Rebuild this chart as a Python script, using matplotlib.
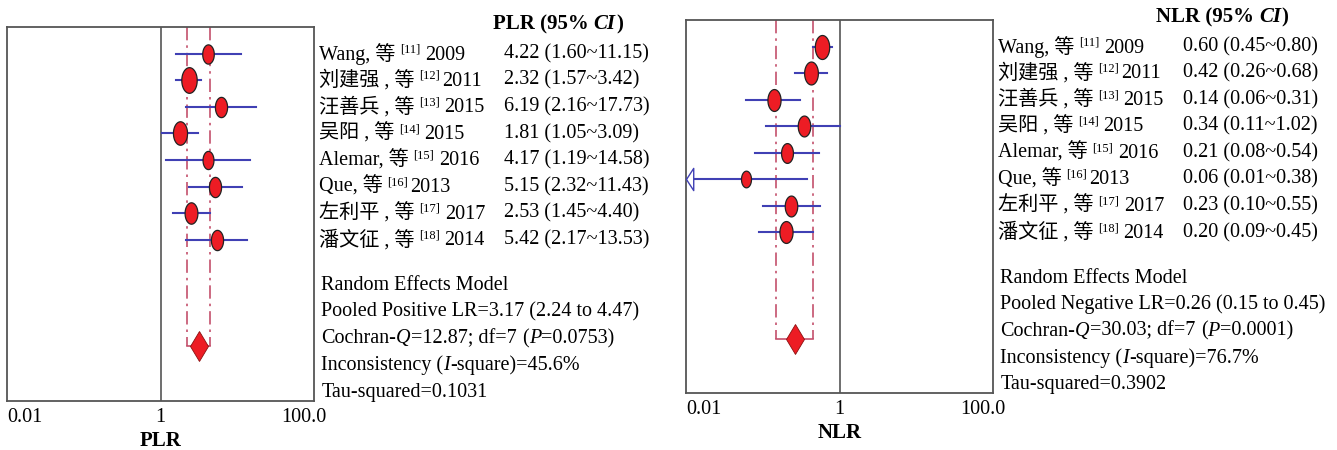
import matplotlib
matplotlib.use("Agg")
import matplotlib.pyplot as plt
import matplotlib.transforms as mtransforms
from matplotlib.path import Path
import numpy as np

plt.rcParams['font.family'] = ['Liberation Serif', 'Noto Sans CJK SC', 'DejaVu Sans']

# study labels
studies = ["Wang, 等", "刘建强 , 等", "汪善兵 , 等", "吴阳 , 等",
           "Alemar, 等", "Que, 等", "左利平 , 等", "潘文征 , 等"]
refs = ["[11]", "[12]", "[13]", "[14]", "[15]", "[16]", "[17]", "[18]"]
years = ["2009", "2011", "2015", "2015", "2016", "2013", "2017", "2014"]

# positive likelihood ratio
plr = [4.22, 2.32, 6.19, 1.81, 4.17, 5.15, 2.53, 5.42]
plr_lo = [1.60, 1.57, 2.16, 1.05, 1.19, 2.32, 1.45, 2.17]
plr_hi = [11.15, 3.42, 17.73, 3.09, 14.58, 11.43, 4.40, 13.53]
plr_weight = [10.3, 18.3, 11.4, 15.3, 9.2, 11.4, 12.7, 11.4]
plr_pooled = (3.17, 2.24, 4.47)
plr_stats = ("12.87", "7", "0.0753", "45.6%", "0.1031")

# negative likelihood ratio
nlr = [0.60, 0.42, 0.14, 0.34, 0.21, 0.06, 0.23, 0.20]
nlr_lo = [0.45, 0.26, 0.06, 0.11, 0.08, 0.01, 0.10, 0.09]
nlr_hi = [0.80, 0.68, 0.31, 1.02, 0.54, 0.38, 0.55, 0.45]
nlr_weight = [16.0, 14.6, 13.3, 12.1, 10.9, 7.7, 12.1, 13.3]
nlr_pooled = (0.26, 0.15, 0.45)
nlr_stats = ("30.03", "7", "0.0001", "76.7%", "0.3902")

xticks = [0.01, 1, 100]
xtick_labels = ["0.01", "1", "100.0"]

RED = '#ed1c24'
BLUE = '#4040b4'
PINK = '#c4506c'
GREY = '#555555'
FS = 14.5

t = np.linspace(0, 2 * np.pi, 60)
ellipse = Path(np.column_stack([0.6 * np.cos(t), np.sin(t)]))
arrow_head = Path([(0, 0), (0.65, 1), (0.65, -1), (0, 0)],
                  [Path.MOVETO, Path.LINETO, Path.LINETO, Path.CLOSEPOLY])


def chain(ax, x, y, pieces, trans):
    # pieces: (text, gap in points, raise fraction, text props)
    s, _, _, props = pieces[0]
    first = ax.text(x, y, s, transform=trans, va='center', ha='left', **props)
    prev = first
    for s, gap, dy, props in pieces[1:]:
        prev = ax.annotate(s, xy=(1, dy), xycoords=(prev, first), xytext=(gap, 0),
                           textcoords='offset points', va='bottom', ha='left', **props)
    return first


def forest(fig, rect, name, label, vals, lo, hi, weight, pooled, stats, desc):
    ax = fig.add_axes(rect)
    ax.set_xscale('log')
    ax.set_xlim(xticks[0], xticks[-1])
    ax.set_ylim(14.05, 0)
    ax.set_xticks([])
    ax.set_yticks([])
    ax.minorticks_off()
    for sp in ax.spines.values():
        sp.set_color(GREY)
        sp.set_linewidth(1.3)

    ax.axvline(1, color=GREY, lw=1.2, zorder=1)

    pe, plo, phi = pooled
    ydia = 12
    for xv in (plo, phi):
        ax.plot([xv, xv], [0, ydia], color=PINK, lw=1.2, dashes=(8, 3, 1.5, 3), zorder=2)
    ax.plot([plo, phi], [ydia, ydia], color=PINK, lw=1.2, zorder=2)
    ax.plot([pe], [ydia], marker='d', ms=15, color=RED, mec='#8a1010', mew=0.6, zorder=4)

    xmin = xticks[0]
    for i in range(len(vals)):
        y = i + 1
        left = max(lo[i], xmin)
        ax.plot([left, hi[i]], [y, y], color=BLUE, lw=1.5, zorder=3)
        if lo[i] <= xmin:
            ax.plot([xmin], [y], marker=arrow_head, ms=16, mfc='white', mec=BLUE,
                    mew=1.0, ls='none', zorder=3, clip_on=False)
        ms = 0.72 * 6.0 * np.sqrt(weight[i])
        ax.plot([vals[i]], [y], marker=ellipse, ms=ms, mfc=RED, mec='#222222',
                mew=0.9, ls='none', zorder=4)

    trans = ax.get_yaxis_transform()  # x in axes, y in data
    trans_b = ax.get_xaxis_transform()  # x in data, y in axes

    # x tick labels
    for v, s in zip(xticks, xtick_labels):
        tr = trans_b
        ha = 'center'
        if v == xticks[0]:
            ha = 'left'
        elif v == xticks[-1]:
            tr = mtransforms.offset_copy(trans_b, fig=fig, x=-10, units='dots')
        ax.text(v, -0.045, s, transform=tr, ha=ha, va='center', fontsize=FS)
    ax.text(0.5, -0.108, label, transform=ax.transAxes, ha='center', va='center',
            fontsize=15, fontweight='bold')

    # header
    bold = dict(fontsize=15, fontweight='bold')
    chain(ax, rect_header_x[name], -0.1,
          [(f"{label} (95%", 0, 0, bold),
           ("CI", 3.5, 0, dict(fontsize=15, fontweight='bold', fontstyle='italic')),
           (")", 0.5, 0, bold)], trans)

    # study rows
    reg = dict(fontsize=FS)
    sup = dict(fontsize=9)
    for i in range(len(vals)):
        y = i + 1
        gap = 1.5 if refs[i] in ("[12]", "[16]") else 3.5
        chain(ax, 1.015, y,
              [(studies[i], 0, 0, reg),
               (refs[i], 3.5, 0.42, sup),
               (years[i], gap, 0, reg)], trans)
        ax.text(1.62, y, f"{vals[i]:.2f} ({lo[i]:.2f}~{hi[i]:.2f})", transform=trans,
                va='center', ha='left', fontsize=FS)

    # summary block
    q, df, p, i2, tau = stats
    it = dict(fontsize=FS, fontstyle='italic')
    ys = [9.72 + k * 1.0 for k in range(5)]
    ax.text(1.024, ys[0], "Random Effects Model", transform=trans, va='center', fontsize=FS)
    ax.text(1.024, ys[1], f"Pooled {desc} LR={pe:.2f} ({plo:.2f} to {phi:.2f})",
            transform=trans, va='center', fontsize=FS)
    chain(ax, 1.024, ys[2],
          [("Cochran-", 0, 0, reg), ("Q", 0, 0, it), (f"={q}; df={df}", 0, 0, reg),
           ("(", 4, 0, reg), ("P", 0, 0, it), (f"={p})", 0, 0, reg)], trans)
    chain(ax, 1.024, ys[3],
          [("Inconsistency (", 0, 0, reg), ("I", 0, 0, it), (f"-square)={i2}", 0, 0, reg)],
          trans)
    ax.text(1.024, ys[4], f"Tau-squared={tau}", transform=trans, va='center', fontsize=FS)
    return ax


rect_header_x = {"plr": 1.583, "nlr": 1.531}

fig = plt.figure(figsize=(13.37, 4.5), dpi=100)
forest(fig, [7 / 1337, 1 - 401 / 450, 307 / 1337, 374 / 450], "plr", "PLR",
       plr, plr_lo, plr_hi, plr_weight, plr_pooled, plr_stats, "Positive")
forest(fig, [686 / 1337, 1 - 393 / 450, 307 / 1337, 373 / 450], "nlr", "NLR",
       nlr, nlr_lo, nlr_hi, nlr_weight, nlr_pooled, nlr_stats, "Negative")

fig.savefig("out.png", dpi=100)
